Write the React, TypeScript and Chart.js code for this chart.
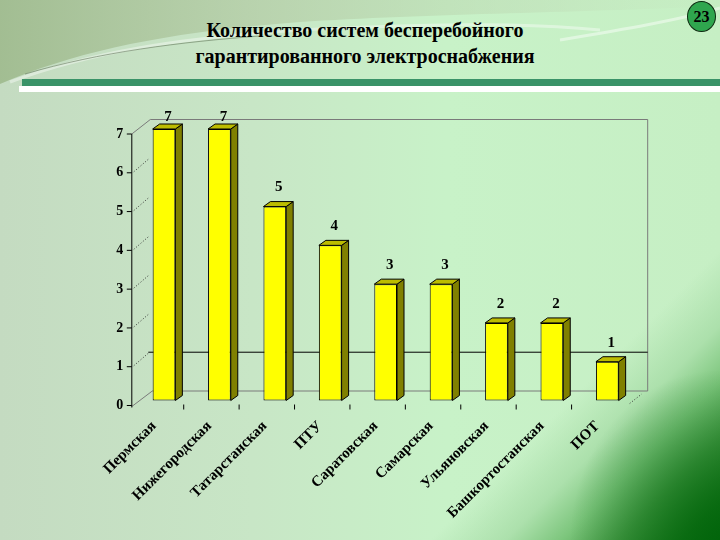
import React, { useEffect, useRef } from "react";
import { Chart, registerables } from "chart.js";

Chart.register(...registerables);

const categories = [
  "Пермская",
  "Нижегородская",
  "Татарстанская",
  "ПТУ",
  "Саратовская",
  "Самарская",
  "Ульяновская",
  "Башкортостанская",
  "ПОТ",
];
const values = [7, 7, 5, 4, 3, 3, 2, 2, 1];
const yTicks = [0, 1, 2, 3, 4, 5, 6, 7];
const wallGridValues = [1];
const titleLines = ["Количество систем бесперебойного", "гарантированного электроснабжения"];
const slideNumber = "23";

const FONT = '"Liberation Serif", "Times New Roman", serif';
const DX = 7;
const DY = 5;
const WALL_DX = 18.5;
const WALL_DY = 9.5;
const LABEL_SHIFT = 5;

const decorPlugin = {
  id: "decor3d",
  beforeDatasetsDraw(chart: any) {
    const ctx = chart.ctx;
    const ys = chart.scales.y;
    const xs = chart.scales.x;
    const area = chart.chartArea;
    const axisX = area.left - 4.5;
    const frontY = (v: number) => ys.getPixelForValue(v) + LABEL_SHIFT;
    const backY = (v: number) => ys.getPixelForValue(v) - WALL_DY;
    const wallL = axisX + WALL_DX;
    const wallR = area.right + 12.7;
    const vmax = yTicks[yTicks.length - 1];
    ctx.save();
    ctx.lineWidth = 1;
    // back wall
    ctx.strokeStyle = "#7a7a7a";
    ctx.beginPath();
    ctx.moveTo(wallL, backY(vmax));
    ctx.lineTo(wallR, backY(vmax));
    ctx.lineTo(wallR, backY(0));
    ctx.lineTo(wallL + 2, backY(0));
    ctx.stroke();
    // side diagonals
    ctx.beginPath();
    ctx.moveTo(axisX, frontY(vmax));
    ctx.lineTo(wallL, backY(vmax));
    ctx.moveTo(axisX, frontY(0) + 1);
    ctx.lineTo(wallL + 2, backY(0));
    ctx.stroke();
    // back wall gridline
    ctx.strokeStyle = "#000";
    wallGridValues.forEach((v) => {
      ctx.beginPath();
      ctx.moveTo(wallL - 2, backY(v));
      ctx.lineTo(wallR, backY(v));
      ctx.stroke();
    });
    // dotted side gridlines
    ctx.setLineDash([1, 2]);
    ctx.strokeStyle = "#333";
    yTicks.slice(1, -1).forEach((v) => {
      ctx.beginPath();
      ctx.moveTo(axisX + 2, frontY(v) - 1);
      ctx.lineTo(wallL - 2, backY(v) + 1);
      ctx.stroke();
    });
    ctx.beginPath();
    ctx.moveTo(wallR - 18, frontY(0) - 2);
    ctx.lineTo(wallR - 6, backY(0) + 3);
    ctx.stroke();
    ctx.setLineDash([]);
    // front axis
    ctx.strokeStyle = "#000";
    ctx.beginPath();
    ctx.moveTo(axisX, frontY(vmax));
    ctx.lineTo(axisX, frontY(0) + 2);
    ctx.stroke();
    yTicks.forEach((v) => {
      ctx.beginPath();
      ctx.moveTo(axisX - 5, frontY(v));
      ctx.lineTo(axisX, frontY(v));
      ctx.stroke();
    });
    // x ticks
    for (let i = 1; i < categories.length; i++) {
      const xb = (xs.getPixelForValue(i - 1) + xs.getPixelForValue(i)) / 2 - 8;
      ctx.beginPath();
      ctx.moveTo(xb, frontY(0) - 1);
      ctx.lineTo(xb, frontY(0) + 4);
      ctx.stroke();
    }
    ctx.restore();
  },
  afterDatasetsDraw(chart: any) {
    const ctx = chart.ctx;
    const meta = chart.getDatasetMeta(0);
    ctx.save();
    ctx.lineWidth = 1;
    ctx.strokeStyle = "#000";
    meta.data.forEach((el: any, i: number) => {
      const p = el.getProps(["x", "y", "base", "width"], true);
      const left = p.x - p.width / 2;
      const right = p.x + p.width / 2;
      const top = p.y;
      const base = p.base;
      // side face
      ctx.fillStyle = "#808000";
      ctx.beginPath();
      ctx.moveTo(right, top);
      ctx.lineTo(right + DX, top - DY);
      ctx.lineTo(right + DX, base - DY);
      ctx.lineTo(right, base);
      ctx.closePath();
      ctx.fill();
      ctx.stroke();
      // top face
      ctx.fillStyle = "#bcbc00";
      ctx.beginPath();
      ctx.moveTo(left, top);
      ctx.lineTo(left + DX, top - DY);
      ctx.lineTo(right + DX, top - DY);
      ctx.lineTo(right, top);
      ctx.closePath();
      ctx.fill();
      ctx.stroke();
      // value label
      ctx.fillStyle = "#000";
      ctx.font = `bold 15px ${FONT}`;
      ctx.textAlign = "center";
      ctx.textBaseline = "middle";
      ctx.fillText(String(values[i]), p.x + 4, Math.max(117, top - 19));
    });
    ctx.restore();
  },
};

export default function App() {
  const ref = useRef<HTMLCanvasElement>(null);

  useEffect(() => {
    if (!ref.current) return;
    const chart = new Chart(ref.current, {
      type: "bar",
      data: {
        labels: categories,
        datasets: [
          {
            data: values,
            backgroundColor: "#ffff00",
            borderColor: "#000000",
            borderWidth: 1,
            borderSkipped: false,
            barPercentage: 0.41,
            categoryPercentage: 1,
            clip: false,
          } as any,
        ],
      },
      options: {
        animation: false,
        responsive: false,
        maintainAspectRatio: false,
        devicePixelRatio: 1,
        layout: { padding: { left: 0, right: 85, top: 129, bottom: 0 } },
        plugins: {
          legend: { display: false },
          tooltip: { enabled: false },
          title: { display: false },
        },
        scales: {
          x: {
            grid: { display: false, drawTicks: false },
            border: { display: false },
            ticks: {
              autoSkip: false,
              maxRotation: 45,
              minRotation: 45,
              labelOffset: -10,
              padding: 17,
              color: "#000",
              font: { family: FONT, weight: "bold", size: 15 },
            },
            afterFit(s: any) {
              s.height = 139.5;
            },
          },
          y: {
            min: 0,
            max: 7,
            grid: { display: false, drawTicks: false },
            border: { display: false },
            ticks: {
              stepSize: 1,
              padding: 13,
              labelOffset: LABEL_SHIFT,
              color: "#000",
              font: { family: FONT, weight: "bold", size: 14 },
            },
            afterBuildTicks(s: any) {
              s.ticks = yTicks.map((v) => ({ value: v }));
            },
            afterFit(s: any) {
              s.width = 136.3;
            },
          },
        },
      } as any,
      plugins: [decorPlugin],
    });
    return () => chart.destroy();
  }, []);

  return (
    <div
      style={{
        position: "absolute",
        left: 0,
        top: 0,
        width: 720,
        height: 540,
        overflow: "hidden",
        background:
          "radial-gradient(ellipse 150px 170px at 100% 100%, rgba(0,100,10,0.85) 0%, rgba(0,100,10,0) 100%)," +
          "linear-gradient(135deg, rgba(200,240,200,0) 0%, rgba(200,240,200,0) 77%, rgba(165,220,165,0.8) 83%, rgba(120,195,120,0.95) 87.5%, #4a9e4a 92%, #1c7a1f 97%, #0a6a10 100%)," +
          "linear-gradient(to right, #c4dbc1 0%, #c8e6c6 35%, #c8f2c8 62%, #c6efc4 100%)",
      }}
    >
      <svg
        width={720}
        height={540}
        style={{ position: "absolute", left: 0, top: 0 }}
      >
        <defs>
          <linearGradient id="topShade" x1="0" y1="0" x2="1" y2="0">
            <stop offset="0" stopColor="#9cb88a" stopOpacity="0.85" />
            <stop offset="0.35" stopColor="#b0c8a0" stopOpacity="0.65" />
            <stop offset="0.75" stopColor="#bcd4b0" stopOpacity="0.35" />
            <stop offset="1" stopColor="#c4e4bc" stopOpacity="0.1" />
          </linearGradient>
        </defs>
        <path
          d="M0,0 L720,0 L720,6 C600,12 420,14 300,22 C170,32 80,50 0,84 Z"
          fill="url(#topShade)"
        />
        <path
          d="M10,82 C90,52 180,38 300,30 C420,24 520,22 600,30"
          stroke="rgba(255,255,255,0.4)"
          strokeWidth={3}
          fill="none"
        />
        <path
          d="M25,74 C100,52 180,42 260,36"
          stroke="rgba(90,110,80,0.55)"
          strokeWidth={1}
          fill="none"
        />
        <path
          d="M560,40 C620,30 680,20 720,8"
          stroke="rgba(255,255,255,0.45)"
          strokeWidth={3}
          fill="none"
        />
      </svg>
      <div
        style={{
          position: "absolute",
          left: 0,
          top: 17,
          width: 730,
          textAlign: "center",
          fontFamily: FONT,
          fontWeight: "bold",
          fontSize: 20,
          lineHeight: "26px",
          color: "#000",
        }}
      >
        {titleLines.map((t, i) => (
          <div key={i}>{t}</div>
        ))}
      </div>
      <div
        style={{
          position: "absolute",
          left: 22,
          top: 79,
          width: 698,
          height: 7,
          background: "#3a9368",
        }}
      />
      <div
        style={{
          position: "absolute",
          left: 19,
          top: 86,
          width: 701,
          height: 6,
          background: "#ffffff",
        }}
      />
      <div
        style={{
          position: "absolute",
          left: 687,
          top: 1,
          width: 27,
          height: 29,
          borderRadius: "50%",
          background: "#2fa64e",
          border: "1.5px solid #0d2a10",
          display: "flex",
          alignItems: "center",
          justifyContent: "center",
          fontFamily: FONT,
          fontWeight: "bold",
          fontSize: 16,
          color: "#000",
        }}
      >
        {slideNumber}
      </div>
      <canvas
        ref={ref}
        width={720}
        height={540}
        style={{ position: "absolute", left: 0, top: 0, width: 720, height: 540 }}
      />
    </div>
  );
}
